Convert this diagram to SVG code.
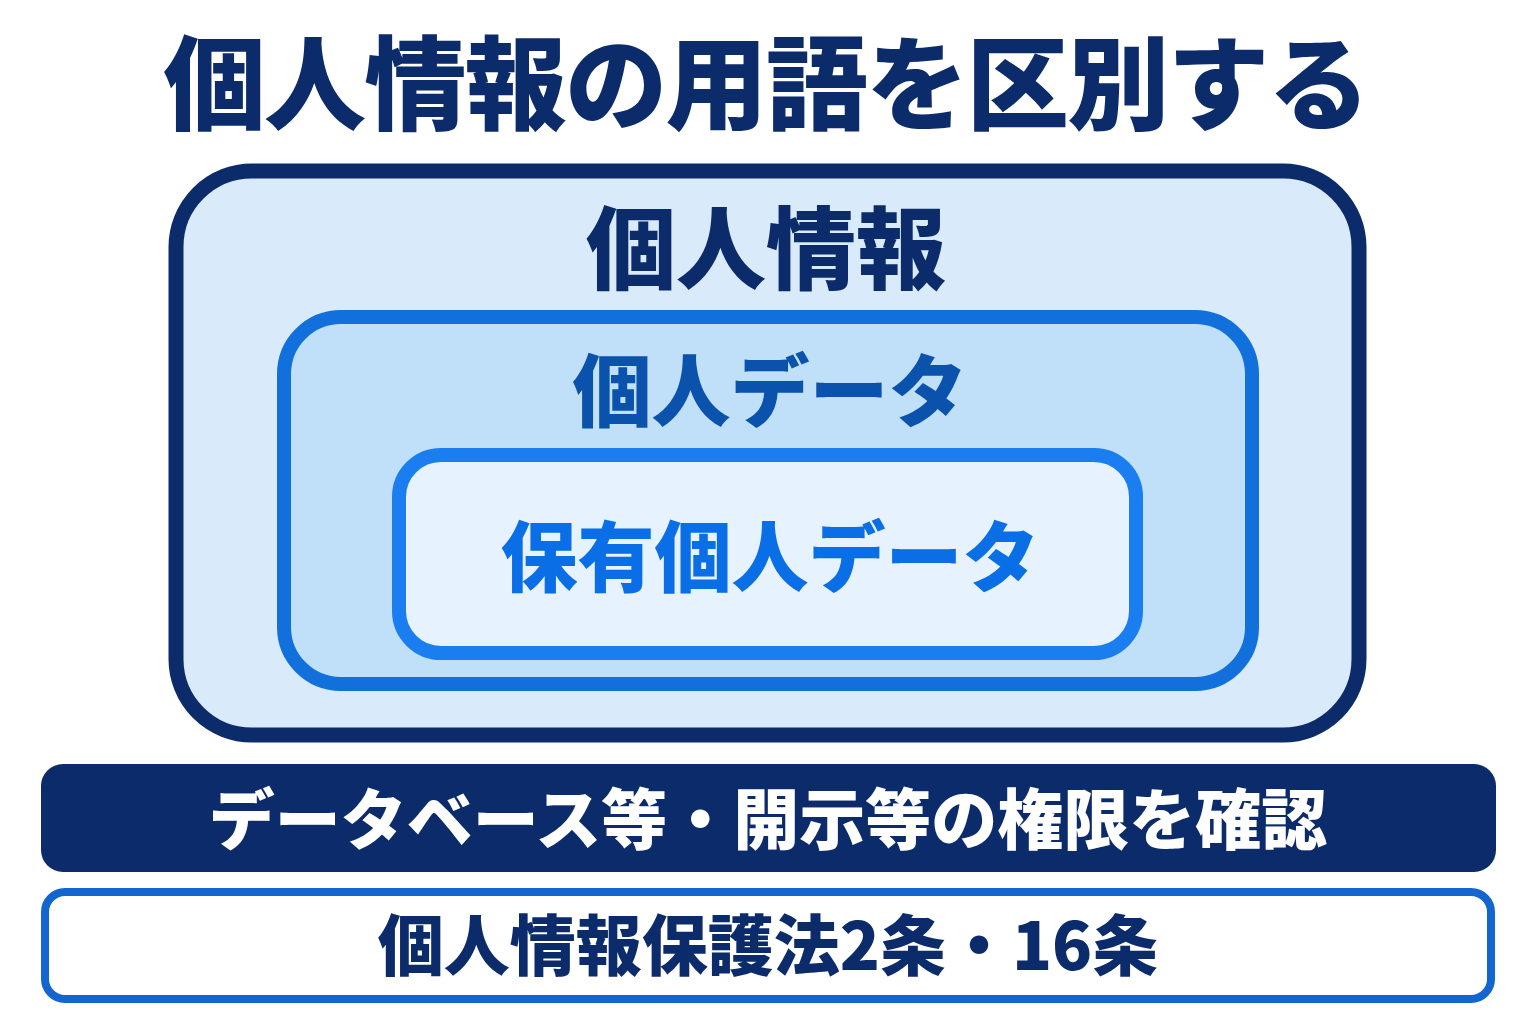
<svg xmlns="http://www.w3.org/2000/svg" width="1536" height="1024" viewBox="0 0 1536 1024">
<style>
text { font-family: "Noto Sans CJK JP", "Noto Sans", sans-serif; text-anchor: middle; font-weight: 900; }
.navy { fill: #0c2b6b; }
</style>
<rect x="0" y="0" width="1536" height="1024" fill="#ffffff"/>
<g id="title">
<text class="navy" x="766" y="122" font-size="102" letter-spacing="-1.6">個人情報の用語を区別する</text>
</g>
<g id="node-kojin-joho">
<rect x="176" y="171" width="1183" height="564" rx="76" fill="#d9ebfb" stroke="#0c2b6b" stroke-width="15"/>
<text class="navy" x="766" y="282" font-size="90">個人情報</text>
</g>
<g id="node-kojin-data">
<rect x="284" y="317" width="968" height="367" rx="57" fill="#c0dff8" stroke="#1170dc" stroke-width="14"/>
<text x="770" y="421" font-size="79" fill="#0b52ac">個人データ</text>
</g>
<g id="node-hoyu-data">
<rect x="399" y="455" width="737" height="198" rx="42" fill="#e6f2fd" stroke="#1a7ef0" stroke-width="14"/>
<text x="770" y="586" font-size="77" fill="#0a6ee6">保有個人データ</text>
</g>
<g id="node-check">
<rect x="41" y="764" width="1455" height="108" rx="22" fill="#0c2b6b"/>
<text x="768" y="844" font-size="66" font-weight="700" fill="#ffffff">データベース等・開示等の権限を確認</text>
</g>
<g id="node-law">
<rect x="45" y="892" width="1446" height="107" rx="20" fill="#ffffff" stroke="#1366d0" stroke-width="8"/>
<text class="navy" x="768" y="970" font-size="66">個人情報保護法2条・16条</text>
</g>
<g id="connectors"></g>
</svg>
